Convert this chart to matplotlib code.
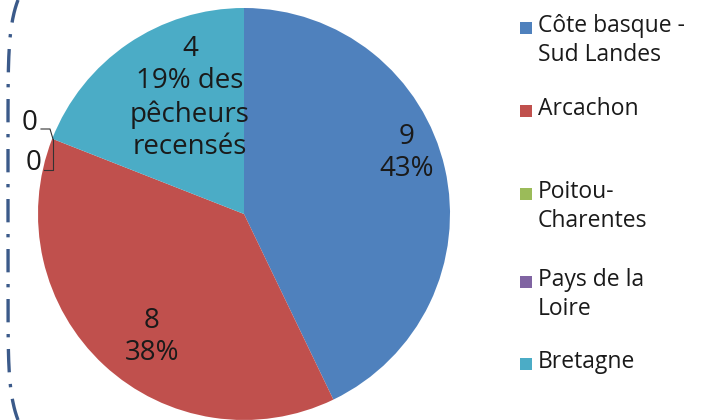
import numpy as np
import matplotlib
matplotlib.use("Agg")
import matplotlib.pyplot as plt
from matplotlib.patches import Rectangle

# Données
regions = ["Côte basque -\nSud Landes", "Arcachon", "Poitou-\nCharentes",
           "Pays de la\nLoire", "Bretagne"]
pecheurs = [9, 8, 0, 0, 4]
couleurs = ["#4F81BD", "#C0504D", "#9BBB59", "#8064A2", "#4BACC6"]

plt.rcParams['font.family'] = ['Open Sans', 'DejaVu Sans']

W, H = 711, 420
fig = plt.figure(figsize=(W / 100, H / 100), dpi=100)
ax = fig.add_axes([0, 0, 1, 1])

cx, cy, r = 244, H - 214, 206
wedges, _ = ax.pie(pecheurs, colors=couleurs, startangle=90, counterclock=False,
                   center=(cx, cy), radius=r, frame=True)
ax.set_xlim(0, W)
ax.set_ylim(0, H)
ax.set_aspect('equal')
ax.axis('off')

total = sum(pecheurs)
pct = [round(100 * v / total) for v in pecheurs]

# étiquettes des parts (position en pixels)
lab_pos = {0: (407, 153), 1: (152, 337), 4: (190, 98)}
txt = {0: f"{pecheurs[0]}\n{pct[0]}%",
       1: f"{pecheurs[1]}\n{pct[1]}%",
       4: f"{pecheurs[4]}\n{pct[4]}% des\npêcheurs\nrecensés"}
for i, (px, py) in lab_pos.items():
    ax.text(px, H - py, txt[i], ha='center', va='center', fontsize=20,
            color='#1a1a1a', linespacing=1.22)

# étiquettes des parts nulles avec lignes de rappel
ax.text(30, H - 123, str(pecheurs[2]), ha='center', va='center', fontsize=20, color='#1a1a1a')
ax.text(34, H - 163, str(pecheurs[3]), ha='center', va='center', fontsize=20, color='#1a1a1a')
ax.plot([41, 50, 53, 53], [H - 129, H - 129, H - 139, H - 139], color='#333333', lw=0.8)
ax.plot([53, 53, 44], [H - 139, H - 170, H - 170], color='#333333', lw=0.8)

# légende
leg_y = [28, 111, 194, 282, 364]
for i, lab in enumerate(regions):
    y = H - leg_y[i]
    ax.add_patch(Rectangle((520, y - 6), 12, 12, facecolor=couleurs[i], edgecolor='none'))
    ax.text(538, y + 14, lab, ha='left', va='top', fontsize=16.5, color='#1a1a1a',
            linespacing=1.3)

# bordure pointillée à gauche
t = np.linspace(0, 1, 200)
yy = H - t * H
xx = 8 + 10 * (2 * t - 1) ** 8
ax.plot(xx, yy, color='#3B5A8A', lw=2.4, linestyle=(0, (7, 3.5, 1, 3.5)))

fig.savefig("out.png", dpi=100)
